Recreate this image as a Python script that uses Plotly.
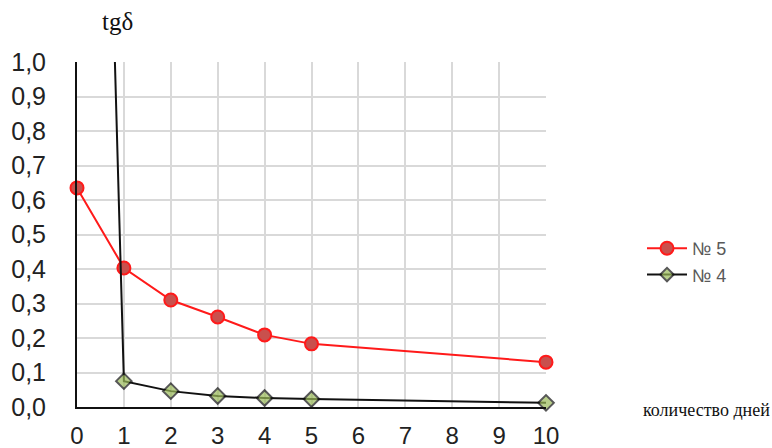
import plotly.graph_objects as go

# Days of exposure and measured loss tangent for two samples
days = [0, 1, 2, 3, 4, 5, 10]
tg_no5 = [0.635, 0.403, 0.31, 0.261, 0.209, 0.183, 0.13]
tg_no4 = [4.9, 0.075, 0.046, 0.032, 0.026, 0.023, 0.012]
x_ticks = list(range(0, 11))
y_ticks = [i / 10 for i in range(0, 11)]

# plot area in pixels, used to place the free-standing labels
L, R, T, B = 77, 546, 62, 407
W, H = R - L, B - T


def px_to_paper(px, py):
    return (px - L) / W, (B - py) / H


fig = go.Figure()

fig.add_trace(go.Scatter(
    x=days, y=tg_no5, name="№ 5", mode="lines+markers",
    line=dict(color="#ff1a1a", width=2),
    marker=dict(symbol="circle", size=13, color="#c9504d",
                line=dict(color="#ff1a1a", width=2)),
    cliponaxis=False,
))

# first point is far above the visible range: no marker there
fig.add_trace(go.Scatter(
    x=days, y=tg_no4, name="№ 4", mode="lines+markers",
    line=dict(color="#111111", width=2),
    marker=dict(symbol="diamond", size=[0, 12, 12, 12, 12, 12, 12],
                color="#9bbb59", line=dict(color="#111111", width=2)),
    cliponaxis=False,
))

tx, ty = px_to_paper(117, 22)
ax_x, ax_y = px_to_paper(706, 410)
lx, ly = px_to_paper(642, 230)

fig.update_layout(
    width=772, height=448,
    margin=dict(l=L, r=772 - R, t=T, b=448 - B, autoexpand=False),
    paper_bgcolor="white", plot_bgcolor="white",
    separators=", ",
    font=dict(family="Liberation Sans, Arial", color="#222222"),
    showlegend=True,
    legend=dict(x=lx, y=ly, xanchor="left", yanchor="top",
                font=dict(size=18, color="#595959"),
                bgcolor="rgba(0,0,0,0)", itemwidth=40, tracegroupgap=0),
    annotations=[
        dict(text="tgδ", x=tx, y=ty, xref="paper", yref="paper",
             xanchor="center", yanchor="middle", showarrow=False,
             font=dict(family="Liberation Serif, Times New Roman", size=25, color="#111111")),
        dict(text="количество дней", x=ax_x, y=ax_y, xref="paper", yref="paper",
             xanchor="center", yanchor="middle", showarrow=False,
             font=dict(family="Liberation Serif, Times New Roman", size=18, color="#111111")),
    ],
)

fig.update_xaxes(
    range=[0, 10], tickvals=x_ticks, ticktext=[str(v) for v in x_ticks],
    showgrid=True, gridcolor="#d9d9d9", gridwidth=2,
    showline=True, linecolor="#111111", linewidth=2,
    zeroline=False, ticks="", ticklabelstandoff=6, automargin=False,
    tickfont=dict(size=24, color="#222222"),
)
fig.update_yaxes(
    range=[0, 1.0], tickvals=y_ticks, tickformat=".1f",
    showgrid=True, gridcolor="#d9d9d9", gridwidth=2,
    showline=True, linecolor="#111111", linewidth=2,
    zeroline=False, ticks="", ticklabelstandoff=24, automargin=False,
    tickfont=dict(size=25, color="#222222"),
)

fig.write_html("out.html")
